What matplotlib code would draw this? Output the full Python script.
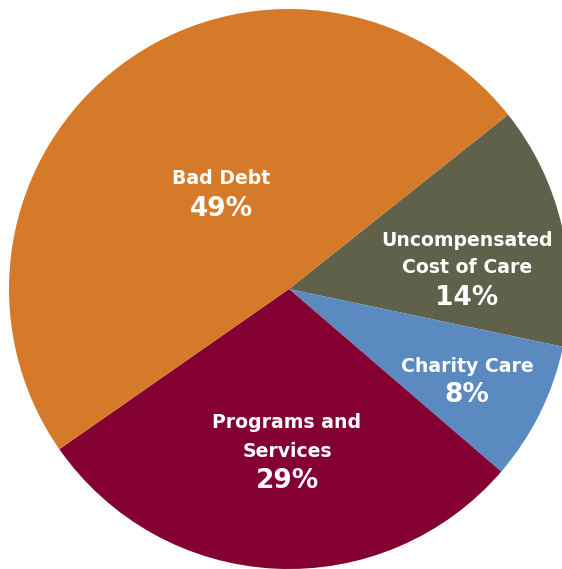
import matplotlib
matplotlib.use("Agg")
import matplotlib.pyplot as plt

# data
categories = ["Uncompensated\nCost of Care", "Charity Care", "Programs and\nServices", "Bad Debt"]
shares = [14, 8, 29, 49]
colors = ["#5F614B", "#5A8ABF", "#840032", "#D47A28"]

# layout (pixels): text centre x, baselines of name lines, baseline of percent
text_x = [467, 467, 287, 221]
name_base = [[246, 273], [371.5], [428, 457], [184]]
pct_base = [305, 402, 488, 216]
cx, cy, rad = 289, 289, 280

plt.rcParams["font.family"] = ["DejaVu Sans"]

fig = plt.figure(figsize=(5.62, 5.69), dpi=100)
ax = fig.add_axes([0, 0, 1, 1])
ax.pie(shares, colors=colors, startangle=38.5, counterclock=False,
       radius=1, center=(0, 0), wedgeprops=dict(linewidth=0))
ax.set_xlim(-cx / rad, (562 - cx) / rad)
ax.set_ylim(-(569 - cy) / rad, cy / rad)
ax.set_aspect("equal")
ax.axis("off")


def to_data(px, py):
    return (px - cx) / rad, (cy - py) / rad


for name, val, px, bases, pb in zip(categories, shares, text_x, name_base, pct_base):
    for ln, b in zip(name.split("\n"), bases):
        x, y = to_data(px, b)
        ax.text(x, y, ln, ha="center", va="baseline", color="white",
                fontsize=13.6, fontweight="bold")
    x, y = to_data(px, pb)
    ax.text(x, y, f"{val}%", ha="center", va="baseline", color="white",
            fontsize=19, fontweight="bold")

fig.savefig("out.png", dpi=100)
